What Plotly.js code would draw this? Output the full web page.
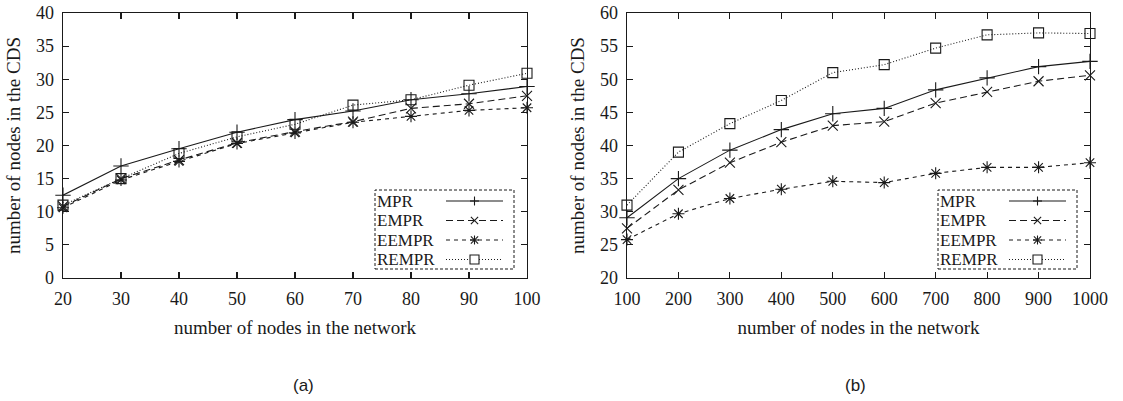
<!DOCTYPE html>
<html>
<head>
<meta charset="utf-8">
<script src="https://cdn.plot.ly/plotly-3.0.1.min.js"></script>
<style>html,body{margin:0;padding:0;background:#fff;}#chart{width:1123px;height:401px;}</style>
</head>
<body>
<div id="chart"></div>
<script>
// ---- data ----
const seriesNames = ["MPR", "EMPR", "EEMPR", "REMPR"];

const nodesA = [20, 30, 40, 50, 60, 70, 80, 90, 100];
const mprA   = [12.5, 16.9, 19.5, 22.0, 23.9, 25.2, 26.9, 27.8, 28.9];
const emprA  = [10.8, 15.0, 17.8, 20.4, 22.1, 23.6, 25.6, 26.3, 27.5];
const eemprA = [10.6, 14.8, 17.6, 20.3, 21.9, 23.5, 24.4, 25.3, 25.7];
const remprA = [11.0, 15.0, 18.8, 21.3, 23.2, 26.1, 26.9, 29.1, 30.9];

const nodesB = [100, 200, 300, 400, 500, 600, 700, 800, 900, 1000];
const mprB   = [29.1, 35.0, 39.3, 42.4, 44.8, 45.6, 48.4, 50.2, 51.9, 52.7];
const emprB  = [27.5, 33.3, 37.4, 40.5, 43.0, 43.6, 46.4, 48.1, 49.7, 50.6];
const eemprB = [25.8, 29.7, 32.0, 33.4, 34.6, 34.4, 35.8, 36.7, 36.7, 37.4];
const remprB = [31.0, 39.0, 43.3, 46.8, 51.0, 52.2, 54.7, 56.7, 57.0, 56.9];

const xTitle = "number of nodes in the network";
const yTitle = "number of nodes in the CDS";
const panelLabels = ["(a)", "(b)"];

// ---- styling ----
const W = 1123, H = 401;
const px = x => x / W;
const py = y => 1 - y / H;
const SERIF = "Liberation Serif, Times New Roman, serif";
const INK = "#1a1a1a";

const styles = [
  {dash: "solid",    symbol: "cross-thin-open", size: 11},
  {dash: "7px,4px",  symbol: "x-thin-open",     size: 10},
  {dash: "4px,4px",  symbol: "asterisk-open",   size: 10},
  {dash: "1px,2px",  symbol: "square-open",     size: 10}
];

function mk(x, y, i, xa, ya) {
  const s = styles[i];
  return {
    type: "scatter", mode: "lines+markers", name: seriesNames[i],
    x: x, y: y, xaxis: xa, yaxis: ya, showlegend: false, cliponaxis: false,
    line: {color: INK, width: 1.1, dash: s.dash},
    marker: {symbol: s.symbol, size: s.size, color: INK, line: {color: INK, width: 1.1}}
  };
}

const data = [
  mk(nodesA, mprA, 0, "x", "y"),
  mk(nodesA, emprA, 1, "x", "y"),
  mk(nodesA, eemprA, 2, "x", "y"),
  mk(nodesA, remprA, 3, "x", "y"),
  mk(nodesB, mprB, 0, "x2", "y2"),
  mk(nodesB, emprB, 1, "x2", "y2"),
  mk(nodesB, eemprB, 2, "x2", "y2"),
  mk(nodesB, remprB, 3, "x2", "y2")
];

function axisBase() {
  return {
    showline: true, linecolor: INK, linewidth: 1.3, mirror: "allticks",
    ticks: "inside", ticklen: 6, tickwidth: 1.2, tickcolor: INK,
    showgrid: false, zeroline: false, fixedrange: true,
    tickfont: {family: SERIF, size: 18, color: INK}
  };
}

const yDom = [1 - 278 / H, 1 - 13 / H];
const layout = {
  width: W, height: H,
  margin: {l: 0, r: 0, t: 0, b: 0},
  paper_bgcolor: "#fff", plot_bgcolor: "#fff",
  showlegend: false,
  xaxis: Object.assign(axisBase(), {domain: [px(63), px(527)], anchor: "y", range: [20, 100], dtick: 10, tick0: 20,
    ticklabelstandoff: 4,
    title: {text: xTitle, font: {family: SERIF, size: 19, color: INK}, standoff: 12}}),
  yaxis: Object.assign(axisBase(), {domain: yDom, anchor: "x", range: [0, 40], dtick: 5,
    ticklabelstandoff: 4,
    title: {text: yTitle, font: {family: SERIF, size: 19, color: INK}, standoff: 10}}),
  xaxis2: Object.assign(axisBase(), {domain: [px(627), px(1090)], anchor: "y2", range: [100, 1000], dtick: 100, tick0: 100,
    ticklabelstandoff: 4,
    title: {text: xTitle, font: {family: SERIF, size: 19, color: INK}, standoff: 12}}),
  yaxis2: Object.assign(axisBase(), {domain: yDom, anchor: "x2", range: [20, 60], dtick: 5,
    ticklabelstandoff: 4,
    title: {text: yTitle, font: {family: SERIF, size: 19, color: INK}, standoff: 10}}),
  shapes: [],
  annotations: []
};

// panel labels
[[303, panelLabels[0]], [855, panelLabels[1]]].forEach(([cx, t]) => {
  layout.annotations.push({xref: "paper", yref: "paper", x: px(cx), y: py(385), text: t, showarrow: false,
    xanchor: "center", yanchor: "middle", font: {family: "Liberation Sans, Arial, sans-serif", size: 17, color: INK}});
});

// custom gnuplot-style legends (text left, sample right) inside each panel
function addLegend(ox) {
  const L = 375 + ox, R = 514 + ox, T = 190, B = 269;
  layout.shapes.push({type: "rect", xref: "paper", yref: "paper", x0: px(L), x1: px(R), y0: py(B), y1: py(T),
    line: {color: INK, width: 1, dash: "3px,2px"}, fillcolor: "rgba(255,255,255,1)", layer: "above"});
  const rows = [201, 220.5, 240, 259.5];
  const s0 = 446 + ox, s1 = 503 + ox, mx = 474.5 + ox;
  rows.forEach((ry, i) => {
    layout.annotations.push({xref: "paper", yref: "paper", x: px(L + 1), y: py(ry), text: seriesNames[i], showarrow: false,
      xanchor: "left", yanchor: "middle", borderpad: 0, font: {family: SERIF, size: 17, color: INK}});
    layout.shapes.push({type: "line", xref: "paper", yref: "paper", x0: px(s0), x1: px(s1), y0: py(ry), y1: py(ry),
      line: {color: INK, width: 1.1, dash: styles[i].dash}, layer: "above"});
    const r = 4.5;
    const seg = (x0, y0, x1, y1) => layout.shapes.push({type: "line", xref: "paper", yref: "paper",
      x0: px(x0), x1: px(x1), y0: py(y0), y1: py(y1), line: {color: INK, width: 1.1}, layer: "above"});
    if (i === 0 || i === 2) { seg(mx - r, ry, mx + r, ry); seg(mx, ry - r, mx, ry + r); }
    if (i === 1 || i === 2) { seg(mx - r * 0.8, ry - r * 0.8, mx + r * 0.8, ry + r * 0.8); seg(mx - r * 0.8, ry + r * 0.8, mx + r * 0.8, ry - r * 0.8); }
    if (i === 3) {
      layout.shapes.push({type: "rect", xref: "paper", yref: "paper", x0: px(mx - 4.5), x1: px(mx + 4.5),
        y0: py(ry + 4.5), y1: py(ry - 4.5), line: {color: INK, width: 1.1}, fillcolor: "rgba(255,255,255,1)", layer: "above"});
    }
  });
}
addLegend(0);
addLegend(563);

Plotly.newPlot("chart", data, layout, {staticPlot: true, displayModeBar: false});
</script>
</body>
</html>
